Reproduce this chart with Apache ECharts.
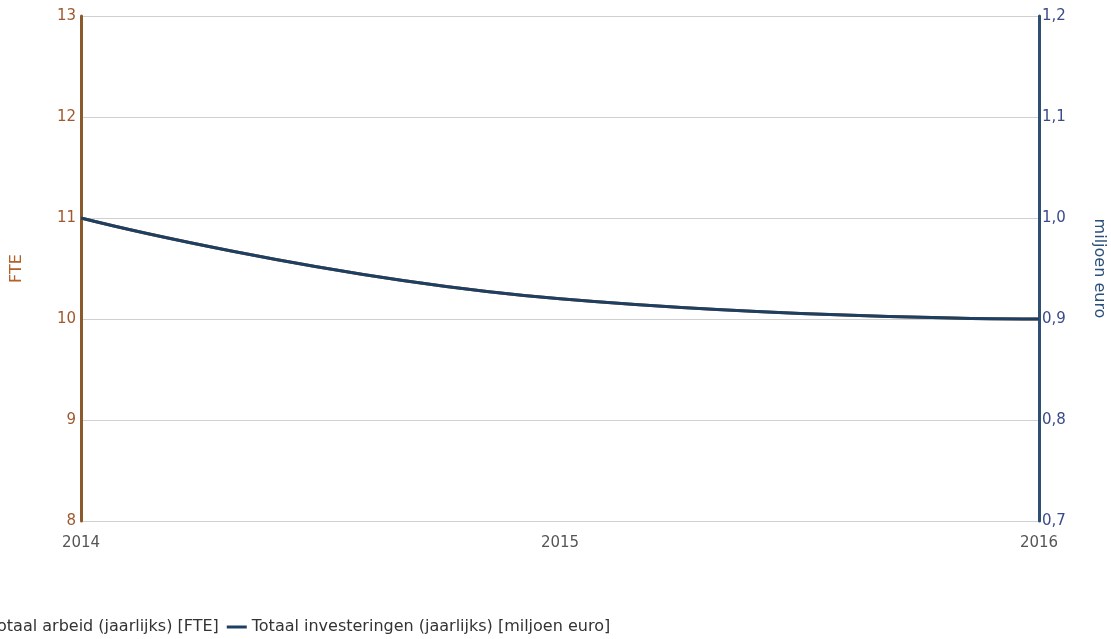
<!DOCTYPE html>
<html><head><meta charset="utf-8">
<script src="https://cdn.jsdelivr.net/npm/echarts@6/dist/echarts.min.js"></script>
<style>html,body{margin:0;padding:0;background:#fff}#c{width:1111px;height:639px}</style>
</head><body><div id="c"></div>
<script>
const categories = ['2014', '2015', '2016'];
const arbeid = [11, 10.2, 10];
const investeringen = [1.0, 0.92, 0.9];
const leftTicks = [8, 9, 10, 11, 12, 13];
const rightTicks = [0.7, 0.8, 0.9, 1.0, 1.1, 1.2];
const legendNames = ['Totaal arbeid (jaarlijks) [FTE]', 'Totaal investeringen (jaarlijks) [miljoen euro]'];

const brown = '#8b5a2b';
const navy = '#1c3f63';
const font = 'DejaVu Sans, sans-serif';
const legendFont = 16;
const ctx = document.createElement('canvas').getContext('2d');
ctx.font = legendFont + 'px DejaVu Sans';
const w1 = ctx.measureText(legendNames[0]).width;
const legendLeft = Math.round(252 - 5 - 20 - 4 - w1 - 5 - 20) - 4;

const chart = echarts.init(document.getElementById('c'));
chart.setOption({
  animation: false,
  grid: { left: 81, right: 72, top: 16, bottom: 118, containLabel: false, outerBoundsMode: 'none' },
  legend: {
    left: legendLeft, top: 619, itemWidth: 20, itemHeight: 3, itemGap: 8, padding: 0,
    icon: 'rect',
    textStyle: { fontFamily: font, fontSize: legendFont, color: '#333' },
    data: legendNames
  },
  xAxis: {
    type: 'category', data: categories, boundaryGap: false,
    axisLine: { show: false }, axisTick: { show: false },
    axisLabel: { fontFamily: font, fontSize: 15, color: '#555', margin: 15,
      alignMinLabel: 'center', alignMaxLabel: 'center' },
    splitLine: { show: false }
  },
  yAxis: [{
    type: 'value', min: leftTicks[0], max: leftTicks[leftTicks.length - 1], interval: 1,
    name: 'FTE', nameLocation: 'middle', nameGap: 56, nameRotate: 90,
    nameTextStyle: { fontFamily: font, fontSize: 16, color: '#b0622a' },
    axisLine: { show: true, lineStyle: { color: brown, width: 3 } },
    axisTick: { show: false },
    axisLabel: { fontFamily: font, fontSize: 15, color: '#a0582e', margin: 5,
      verticalAlign: 'middle' },
    splitLine: { show: true, lineStyle: { color: '#d0d0d0', width: 1 } }
  }, {
    type: 'value', min: rightTicks[0], max: rightTicks[rightTicks.length - 1], interval: 0.1,
    position: 'right',
    name: 'miljoen euro', nameLocation: 'middle', nameGap: 52, nameRotate: -90,
    nameTextStyle: { fontFamily: font, fontSize: 16, color: '#2a4f7a' },
    axisLine: { show: true, lineStyle: { color: '#2c4f72', width: 3 } },
    axisTick: { show: false },
    axisLabel: { fontFamily: font, fontSize: 15, color: '#3b4a8a', margin: 3,
      verticalAlign: 'middle',
      formatter: v => v.toFixed(1).replace('.', ',') },
    splitLine: { show: false }
  }],
  series: [{
    name: legendNames[0], type: 'line', yAxisIndex: 0,
    data: arbeid, smooth: true, showSymbol: false,
    lineStyle: { color: brown, width: 3 }, itemStyle: { color: brown }
  }, {
    name: legendNames[1], type: 'line', yAxisIndex: 1,
    data: investeringen, smooth: true, showSymbol: false,
    lineStyle: { color: navy, width: 3 }, itemStyle: { color: navy }
  }]
});
</script></body></html>
